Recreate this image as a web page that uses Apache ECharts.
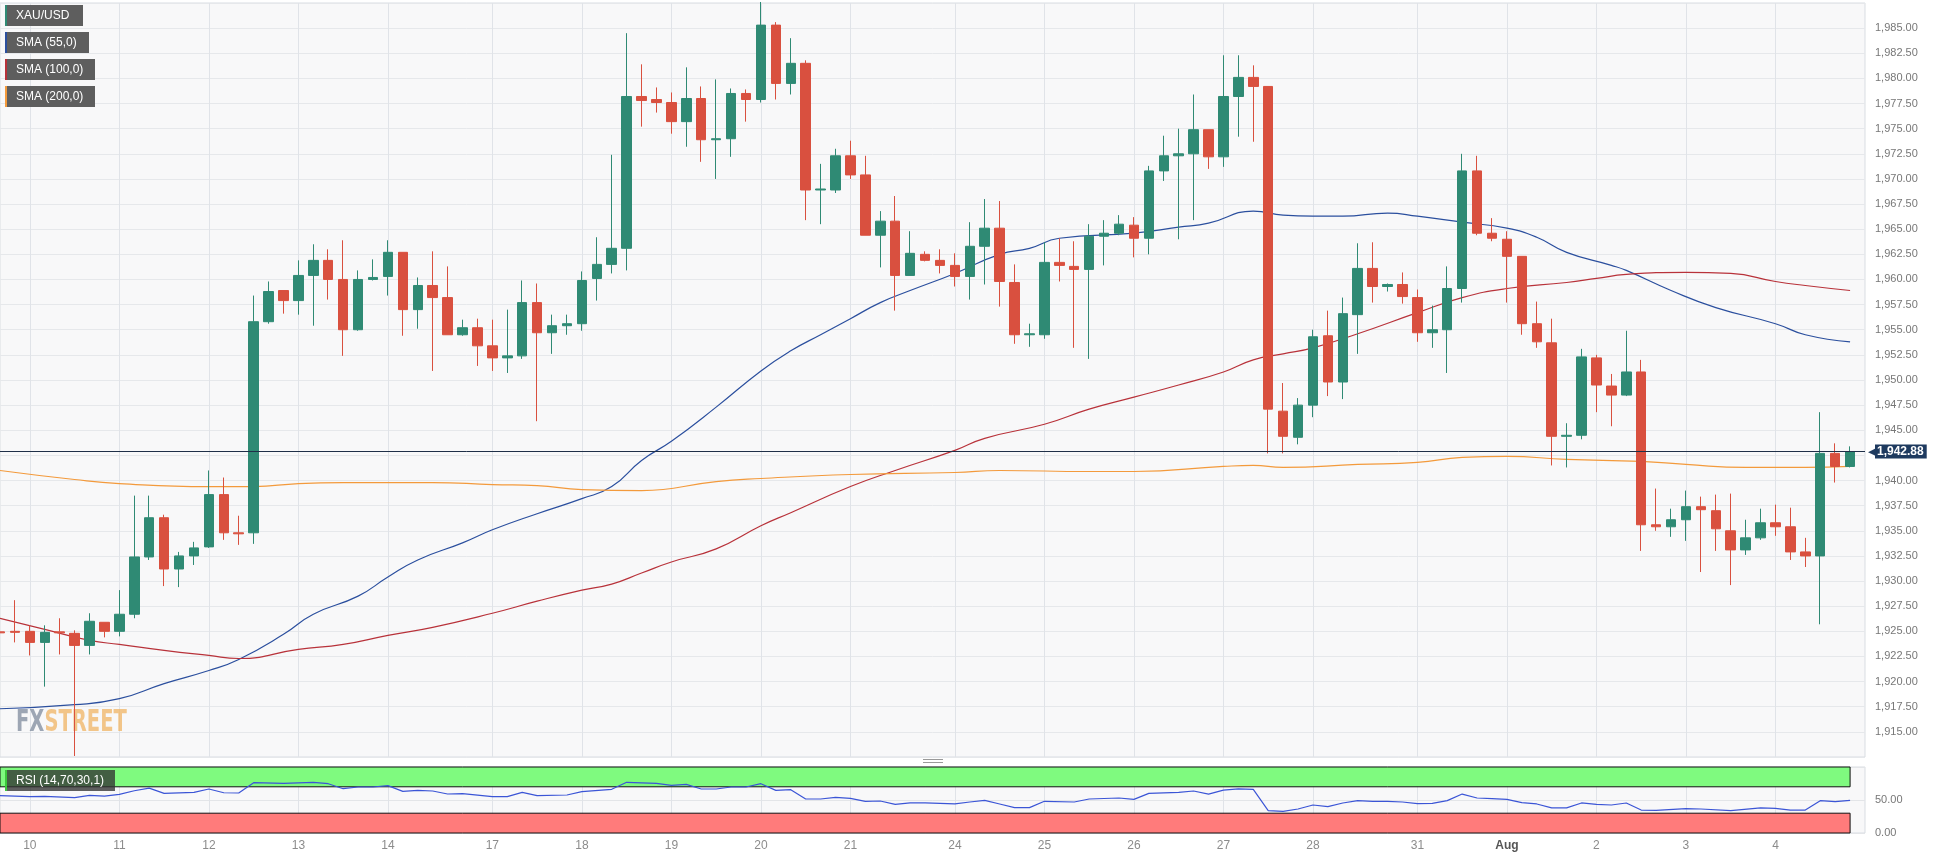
<!DOCTYPE html>
<html><head><meta charset="utf-8">
<style>html,body{margin:0;padding:0;background:#fff}#c{width:1937px;height:860px}</style>
<script src="https://cdn.jsdelivr.net/npm/echarts@6.0.0/dist/echarts.min.js"></script>
</head><body><div id="c"></div>
<script>
// ---------------- data (4h candles, XAU/USD) ----------------
const dayLabels   = ['10','11','12','13','14','17','18','19','20','21','24','25','26','27','28','31','Aug','2','3','4'];
const dayStartIdx = [2,8,14,20,26,33,39,45,51,57,64,70,76,82,88,95,101,107,113,119];

const openP = [1924.95,1925.0,1925.0,1923.9,1924.95,1924.8,1923.6,1925.9,1925.0,1926.7,
  1932.4,1936.3,1931.2,1932.5,1933.4,1938.6,1934.8,1934.8,1955.8,1958.9,
  1957.9,1960.4,1961.9,1960.0,1955.0,1960.0,1960.3,1962.7,1957.0,1959.4,
  1958.2,1954.5,1955.2,1953.4,1952.2,1952.4,1957.7,1954.7,1955.4,1955.6,
  1960.1,1961.5,1963.1,1978.2,1977.9,1977.6,1975.7,1978.0,1973.9,1974.0,
  1978.5,1977.9,1985.3,1979.5,1981.5,1968.9,1968.9,1972.3,1970.4,1964.4,
  1965.8,1960.4,1962.5,1961.9,1961.4,1960.3,1963.3,1965.1,1959.7,1954.5,
  1954.5,1961.7,1961.3,1961.0,1964.3,1964.6,1965.4,1964.1,1970.8,1972.3,
  1972.5,1974.9,1972.2,1978.2,1980.1,1979.2,1946.9,1944.3,1947.5,1954.4,
  1949.8,1956.5,1961.1,1959.3,1959.5,1958.2,1954.7,1955.0,1959.1,1970.8,
  1964.6,1964.0,1962.3,1955.6,1953.7,1944.4,1944.5,1952.2,1949.4,1948.5,
  1950.8,1935.6,1935.4,1936.1,1937.4,1937.0,1935.0,1933.1,1934.3,1935.8,
  1935.4,1932.9,1932.5,1942.7,1941.4];
const closeP = [1924.85,1924.9,1923.9,1924.9,1924.85,1923.6,1926.0,1925.0,1926.7,1932.4,
  1936.3,1931.2,1932.5,1933.3,1938.6,1934.8,1934.7,1955.8,1958.8,1957.9,
  1960.4,1961.9,1960.0,1955.0,1960.0,1960.2,1962.7,1957.0,1959.4,1958.2,
  1954.5,1955.2,1953.4,1952.2,1952.4,1957.7,1954.7,1955.4,1955.6,1959.9,
  1961.5,1963.1,1978.2,1977.8,1977.6,1975.7,1978.0,1973.9,1974.0,1978.5,
  1977.9,1985.3,1979.5,1981.5,1968.9,1969.0,1972.3,1970.4,1964.4,1965.8,
  1960.4,1962.6,1961.9,1961.4,1960.3,1963.3,1965.1,1959.8,1954.5,1954.6,
  1961.7,1961.4,1961.0,1964.3,1964.6,1965.5,1964.1,1970.8,1972.3,1972.5,
  1974.9,1972.2,1978.2,1980.1,1979.2,1947.1,1944.4,1947.5,1954.3,1949.8,
  1956.6,1961.1,1959.3,1959.5,1958.3,1954.7,1955.0,1959.1,1970.8,1964.6,
  1964.1,1962.3,1955.6,1953.8,1944.4,1944.5,1952.3,1949.5,1948.5,1950.8,
  1935.6,1935.4,1936.1,1937.4,1937.1,1935.2,1933.1,1934.3,1935.8,1935.4,
  1932.9,1932.5,1942.7,1941.4,1942.88];
const lowP = [1924.5,1923.9,1922.6,1919.5,1922.7,1912.6,1922.7,1924.4,1924.5,1926.3,
  1932.1,1929.5,1929.4,1931.6,1933.3,1934.1,1933.6,1933.7,1955.6,1956.6,
  1956.5,1955.4,1958.0,1952.4,1954.9,1959.9,1958.4,1954.4,1955.1,1950.9,
  1954.5,1954.4,1951.4,1950.9,1950.7,1952.1,1945.9,1952.6,1954.5,1954.9,
  1957.9,1960.6,1960.9,1975.2,1976.6,1974.5,1973.2,1971.7,1970.0,1972.2,
  1975.7,1977.6,1977.9,1978.4,1965.9,1965.5,1968.6,1970.0,1964.4,1961.2,
  1956.9,1960.4,1961.8,1960.6,1959.3,1958.0,1959.5,1957.3,1953.6,1953.3,
  1954.1,1959.8,1953.2,1952.1,1961.4,1964.4,1962.2,1962.5,1969.8,1964.0,
  1965.9,1971.0,1971.2,1974.2,1973.7,1942.7,1942.7,1943.6,1946.3,1948.4,
  1948.1,1952.6,1957.7,1958.8,1957.6,1953.8,1953.2,1950.7,1957.7,1964.4,
  1963.8,1957.7,1954.5,1953.2,1941.5,1941.3,1944.1,1946.8,1945.4,1948.4,
  1933.0,1935.0,1934.4,1934.0,1930.9,1933.0,1929.6,1932.6,1934.1,1934.5,
  1932.1,1931.4,1925.7,1939.8,1941.3];
const highP = [1925.3,1928.1,1925.6,1925.6,1926.3,1925.1,1926.8,1925.9,1929.1,1938.5,
  1938.5,1936.6,1932.9,1933.9,1941.0,1940.3,1936.5,1958.4,1959.8,1958.9,
  1961.9,1963.5,1963.0,1963.9,1960.9,1962.0,1963.9,1962.7,1960.2,1962.8,
  1961.3,1956.0,1956.1,1956.0,1957.0,1959.9,1959.6,1956.5,1956.5,1960.8,
  1964.2,1972.4,1984.5,1981.4,1979.1,1978.6,1981.1,1979.2,1979.9,1979.0,
  1978.9,1987.6,1985.6,1984.0,1981.8,1971.5,1973.0,1973.8,1972.3,1966.8,
  1968.3,1964.8,1962.8,1963.0,1962.6,1965.7,1968.0,1967.8,1961.5,1955.6,
  1963.7,1964.1,1963.8,1965.5,1965.9,1966.4,1966.2,1971.3,1974.3,1975.0,
  1978.4,1974.9,1982.3,1982.3,1981.3,1979.2,1949.7,1948.2,1955.0,1956.9,
  1958.2,1963.6,1963.7,1959.6,1960.7,1959.0,1957.4,1961.3,1972.5,1972.3,
  1966.1,1964.8,1962.3,1957.8,1956.1,1945.7,1953.1,1952.5,1950.6,1954.9,
  1952.0,1939.2,1937.2,1939.0,1938.4,1938.6,1938.7,1936.1,1937.2,1937.6,
  1937.3,1934.3,1946.8,1943.7,1943.4];

// moving averages: [candle index, value]
const sma55 = [[0,1917.3],[5,1917.7],[8,1918.3],[11,1919.8],[14,1921.1],[16,1922.2],[19,1924.7],[21,1926.7],[24,1928.5],[26,1930.4],[28,1932.1],[31,1933.8],[33,1935.1],[36,1936.7],[39,1938.2],[41,1939.4],[43,1942.0],[45,1943.9],[48,1947.3],[51,1950.9],[53,1952.9],[55,1954.5],[57,1956.1],[59,1957.7],[61,1958.9],[64,1960.6],[67,1962.5],[69,1963.1],[71,1964.1],[76,1964.6],[79,1965.2],[81,1965.6],[84,1966.8],[86,1966.4],[88,1966.3],[90,1966.3],[93,1966.6],[95,1966.3],[98,1965.7],[101,1965.1],[103,1964.2],[105,1962.7],[108,1961.4],[109,1960.9],[112,1958.9],[115,1957.2],[119,1955.6],[121,1954.5],[124,1953.8]];
const sma100 = [[0,1926.3],[3,1925.2],[6,1924.1],[8,1923.7],[11,1923.1],[14,1922.6],[16,1922.3],[20,1923.2],[23,1923.7],[26,1924.6],[29,1925.4],[33,1926.8],[36,1928.0],[39,1929.1],[41,1929.7],[43,1930.8],[45,1931.9],[48,1933.2],[51,1935.5],[53,1936.8],[57,1939.4],[60,1941.0],[64,1943.0],[66,1944.2],[70,1945.6],[73,1947.1],[76,1948.3],[79,1949.5],[82,1950.8],[84,1952.0],[86,1952.6],[88,1953.2],[91,1954.6],[95,1956.7],[98,1958.2],[101,1959.1],[105,1959.7],[107,1960.1],[109,1960.5],[113,1960.7],[116,1960.6],[119,1959.8],[121,1959.4],[124,1958.9]];
const sma200 = [[0,1941.0],[5,1940.1],[8,1939.7],[14,1939.4],[17,1939.4],[20,1939.7],[23,1939.8],[29,1939.8],[33,1939.6],[36,1939.5],[39,1939.1],[43,1939.0],[48,1939.9],[51,1940.2],[57,1940.6],[64,1940.8],[67,1941.0],[73,1940.9],[76,1940.9],[82,1941.4],[84,1941.5],[86,1941.3],[91,1941.6],[95,1941.8],[98,1942.3],[101,1942.4],[105,1942.1],[110,1941.9],[113,1941.6],[117,1941.3],[121,1941.3],[124,1941.4]];
const rsi14 = [[0,56.5],[2,55],[3,55.6],[5,53.5],[6,57.1],[7,56],[8,58.6],[9,64],[10,68],[11,60],[13,61.6],[14,66.7],[15,61],[16,60.6],[17,76.2],[19,75.2],[21,76.8],[22,74.7],[23,67.1],[24,69.7],[25,69.7],[26,71.7],[27,63.1],[28,64.6],[29,63.6],[30,59.1],[31,59.6],[33,55],[34,55],[35,61.6],[36,56.5],[38,57.6],[39,62.6],[41,66.2],[42,76.8],[44,75.2],[45,72.2],[46,73.7],[47,66.7],[48,66.7],[49,69.7],[50,69.7],[51,74.7],[52,64.6],[53,65.6],[54,51.5],[55,51.5],[56,54],[57,52.5],[58,48],[59,48.5],[60,43.4],[61,45.5],[62,45.5],[64,44],[65,47],[66,49.5],[67,44],[68,38.4],[69,38.4],[70,48],[72,47],[73,51.5],[75,53],[76,51],[77,60],[79,61.6],[80,63.6],[81,59],[82,65],[83,67],[84,66],[85,33.8],[86,32.9],[87,36.4],[88,42.4],[89,39.9],[90,45.5],[91,49],[92,48],[93,48],[94,47],[95,44.4],[96,45],[97,49],[98,59],[99,53],[100,52],[101,51],[102,46],[103,44],[104,38],[105,38],[106,45.5],[107,43.4],[108,42.4],[109,45.5],[110,34.8],[111,34.3],[113,36.8],[114,36.4],[116,33.8],[118,38],[119,37.4],[120,34.8],[121,34.8],[122,49],[123,47.5],[124,49.5]];

const lastPrice = 1942.88;
const rsiUpper = 70, rsiLower = 30;
const priceTicks = {min: 1912.5, max: 1987.5, step: 2.5};
const rsiTicks = {min: 0, max: 100, step: 50};
const legendNames = ['XAU/USD', 'SMA (55,0)', 'SMA (100,0)', 'SMA (200,0)'];
const rsiName = 'RSI (14,70,30,1)';

// ---------------- build ----------------
const UP = '#2f8a74', DOWN = '#d9503f';
const C55 = '#2b4f9e', C100 = '#b8323a', C200 = '#f39a3c';
function fmt(v){ const s = Number(v).toFixed(2); const p = s.split('.'); return p[0].replace(/\B(?=(\d{3})+(?!\d))/g, ',') + '.' + p[1]; }

const categories = [];
for (let i = 0; i <= openP.length; i++) categories.push(String(i)); // one spare slot at the right edge
const candles = openP.map((o, i) => [o, closeP[i], lowP[i], highP[i]]);
const isDay = (i) => dayStartIdx.indexOf(i) >= 0;
const FONT = '"Liberation Sans", Arial, sans-serif';
const WM_FONT = '"Liberation Sans Narrow","DejaVu Sans Condensed","Liberation Sans",sans-serif';

const chart = echarts.init(document.getElementById('c'), null, {renderer: 'canvas'});

function labelBox(x, y, w, bg, color, text){
  return {type: 'group', x: x, y: y, children: [
    {type: 'rect', z: 100, shape: {x: 0, y: 0, width: w, height: 21}, style: {fill: bg}},
    {type: 'rect', z: 101, shape: {x: 0, y: 0, width: 2, height: 21}, style: {fill: color}},
    {type: 'text', z: 102, x: 11, y: 10.5, style: {text: text, fill: '#fff', font: '12px ' + FONT, textVerticalAlign: 'middle'}}
  ]};
}

const option = {
  animation: false,
  backgroundColor: '#ffffff',
  textStyle: {fontFamily: FONT},
  grid: [
    {left: 0, top: 3, width: 1865, height: 754, show: true, backgroundColor: '#f8f8f9', borderColor: '#d9dde2', borderWidth: 1},
    {left: 0, top: 767, width: 1865, height: 66, show: true, backgroundColor: '#f8f8f9', borderColor: '#d9dde2', borderWidth: 1}
  ],
  xAxis: [
    {gridIndex: 0, type: 'category', data: categories, boundaryGap: false,
     axisLine: {show: false}, axisTick: {show: false}, axisLabel: {show: false},
     splitLine: {show: true, interval: (i) => isDay(i), lineStyle: {color: '#e0e3e8', width: 1}}},
    {gridIndex: 1, type: 'category', data: categories, boundaryGap: false,
     axisLine: {show: false}, axisTick: {show: false},
     axisLabel: {show: true, interval: (i) => isDay(i), margin: 7, color: '#8c8c8c', fontSize: 12, fontFamily: FONT,
       formatter: (v) => { const k = dayStartIdx.indexOf(Number(v)); const t = k >= 0 ? dayLabels[k] : ''; return t === 'Aug' ? '{b|Aug}' : t; },
       rich: {b: {fontWeight: 'bold', color: '#555', fontSize: 12, fontFamily: FONT}}},
     splitLine: {show: true, interval: (i) => isDay(i), lineStyle: {color: '#e0e3e8', width: 1}}}
  ],
  yAxis: [
    {gridIndex: 0, type: 'value', position: 'right', min: priceTicks.min, max: priceTicks.max, interval: priceTicks.step,
     axisLine: {show: false}, axisTick: {show: false},
     splitLine: {show: true, lineStyle: {color: '#e6e8eb', width: 1}},
     axisLabel: {margin: 10, color: '#777', fontSize: 11, fontFamily: FONT, showMinLabel: false, showMaxLabel: false,
       formatter: (v) => Math.abs(v - 1942.5) < 0.01 ? '' : fmt(v)}},
    {gridIndex: 1, type: 'value', position: 'right', min: rsiTicks.min, max: rsiTicks.max, interval: rsiTicks.step,
     axisLine: {show: false}, axisTick: {show: false},
     splitLine: {show: true, lineStyle: {color: '#e3e5e8', width: 1}},
     axisLabel: {margin: 10, color: '#777', fontSize: 11, fontFamily: FONT, showMaxLabel: false, formatter: (v) => fmt(v)}}
  ],
  series: [
    {name: legendNames[0], type: 'candlestick', xAxisIndex: 0, yAxisIndex: 0, data: candles, barWidth: 10, z: 4,
     itemStyle: {color: UP, color0: DOWN, borderColor: UP, borderColor0: DOWN, borderWidth: 1},
     emphasis: {disabled: true},
     markLine: {silent: true, symbol: ['none', 'none'], animation: false,
       lineStyle: {color: '#1f2f48', width: 1, type: 'solid'},
       label: {show: true, position: 'end', distance: 3,
         formatter: () => '{arr|◀}{tag|' + fmt(lastPrice) + '}',
         rich: {arr: {color: '#1e3a5f', fontSize: 11, padding: [0, -1, 0, 0]},
                tag: {backgroundColor: '#1e3a5f', color: '#fff', fontWeight: 'bold', fontSize: 12, fontFamily: FONT, padding: [1, 3, 1, 2]}}},
       emphasis: {disabled: true},
       data: [{yAxis: lastPrice}]}},
    {name: legendNames[1], type: 'line', xAxisIndex: 0, yAxisIndex: 0, data: sma55, showSymbol: false, smooth: true, z: 3,
     lineStyle: {color: C55, width: 1.2}, itemStyle: {color: C55}, emphasis: {disabled: true}},
    {name: legendNames[2], type: 'line', xAxisIndex: 0, yAxisIndex: 0, data: sma100, showSymbol: false, smooth: true, z: 3,
     lineStyle: {color: C100, width: 1.2}, itemStyle: {color: C100}, emphasis: {disabled: true}},
    {name: legendNames[3], type: 'line', xAxisIndex: 0, yAxisIndex: 0, data: sma200, showSymbol: false, smooth: true, z: 3,
     lineStyle: {color: C200, width: 1.2}, itemStyle: {color: C200}, emphasis: {disabled: true}},
    {name: rsiName, type: 'line', xAxisIndex: 1, yAxisIndex: 1, data: rsi14, showSymbol: false, z: 3,
     lineStyle: {color: '#3b55d6', width: 1.2}, itemStyle: {color: '#3b55d6'}, emphasis: {disabled: true},
     markArea: {silent: true,
       data: [
         [{xAxis: categories[0], yAxis: rsiUpper, itemStyle: {color: '#7ffa7f', borderColor: '#111', borderWidth: 1}}, {xAxis: categories[openP.length - 1], yAxis: 100}],
         [{xAxis: categories[0], yAxis: 0, itemStyle: {color: '#ff7b7b', borderColor: '#111', borderWidth: 1}}, {xAxis: categories[openP.length - 1], yAxis: rsiLower}]
       ]}}
  ],
  graphic: [
    labelBox(5, 5, 78, '#5e5e5e', UP, legendNames[0]),
    labelBox(5, 32, 84, '#5e5e5e', C55, legendNames[1]),
    labelBox(5, 59, 90, '#5e5e5e', C100, legendNames[2]),
    labelBox(5, 86, 90, '#5e5e5e', C200, legendNames[3]),
    labelBox(5, 770, 110, 'rgba(50,50,50,0.78)', '#3cc83c', rsiName),
    {type: 'text', x: 16, y: 707, z: 1, scaleX: 0.7,
     style: {text: '{fx|FX}{st|STREET}', opacity: 0.75,
       rich: {fx: {fill: '#7f8b9c', fontSize: 31, fontWeight: 'bold', fontFamily: WM_FONT},
              st: {fill: '#f0b463', fontSize: 31, fontWeight: 'bold', fontFamily: WM_FONT}}}},
    {type: 'group', x: 923, y: 759, children: [
      {type: 'rect', z: 100, shape: {x: 0, y: 0, width: 20, height: 1}, style: {fill: '#9a9a9a'}},
      {type: 'rect', z: 100, shape: {x: 0, y: 3, width: 20, height: 1}, style: {fill: '#9a9a9a'}}
    ]}
  ]
};
chart.setOption(option);
</script>
</body></html>
